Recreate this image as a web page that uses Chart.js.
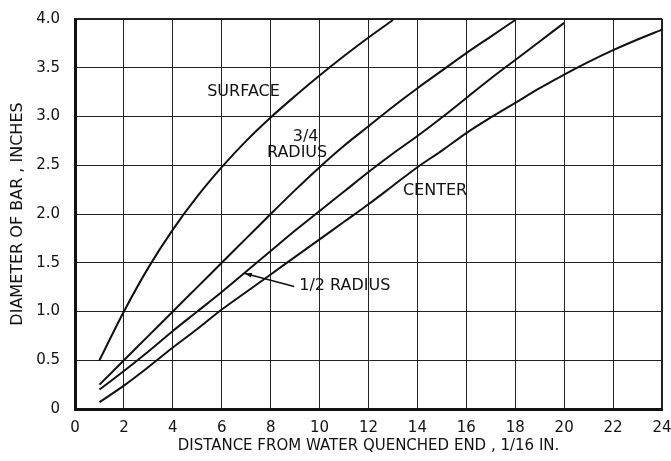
<!DOCTYPE html>
<html>
<head>
<meta charset="utf-8">
<script src="https://cdn.jsdelivr.net/npm/chart.js@4.4.1/dist/chart.umd.min.js"></script>
<style>
  html,body{margin:0;padding:0;background:#fff;}
  #wrap{width:671px;height:461px;position:relative;}
</style>
</head>
<body>
<div id="wrap"><canvas id="jominyChart"></canvas></div>
<script>
// distance from the quenched end, in 1/16 in.
const distance=[1,2,3,4,5,6,7,8,9,10,11,12,13,14,15,16,17,18,19,20,21,22,23,24];

// bar diameter (inches) that gets the same cooling as each Jominy distance
const surface=[0.5,1.0,1.45,1.84,2.18,2.48,2.75,2.99,3.21,3.42,3.62,3.81,3.99];
const threeQuarter=[0.25,0.5,0.75,1.0,1.25,1.5,1.75,2.0,2.245,2.48,2.7,2.9,3.1,3.29,3.47,3.65,3.82,3.99];
const halfRadius=[0.2,0.39,0.59,0.8,1.0,1.2,1.41,1.62,1.83,2.03,2.23,2.43,2.62,2.8,2.99,3.19,3.39,3.58,3.77,3.96];
const center=[0.07,0.24,0.43,0.63,0.82,1.02,1.2,1.38,1.56,1.74,1.92,2.1,2.29,2.48,2.65,2.83,2.99,3.14,3.29,3.43,3.56,3.68,3.79,3.89];

const xTicks=[0,2,4,6,8,10,12,14,16,18,20,22,24];
const yTicks=[0,0.5,1,1.5,2,2.5,3,3.5,4];

// curve labels, placed in data units
const curveNotes=[
  {text:'SURFACE',x:6.89,y:3.25},
  {text:'3/4',x:9.43,y:2.79},
  {text:'RADIUS',x:9.08,y:2.63},
  {text:'CENTER',x:14.72,y:2.24},
  {text:'1/2 RADIUS',x:9.17,y:1.26,align:'left'}
];
const halfArrow={fromX:8.96,fromY:1.256,toX:6.92,toY:1.393};

const FONT="'DejaVu Sans', sans-serif";

const toPoints=(vals)=>vals.map((v,i)=>({x:distance[i],y:v}));

const curve=(label,vals)=>({
  label:label,
  data:toPoints(vals),
  borderColor:'#111',
  borderWidth:2,
  pointRadius:0,
  tension:0.35,
  fill:false
});

const notesPlugin={
  id:'notes',
  afterDatasetsDraw(chart){
    const ctx=chart.ctx;
    const xs=chart.scales.x, ys=chart.scales.y;
    ctx.save();
    ctx.fillStyle='#111';
    ctx.font='16px '+FONT;
    ctx.textBaseline='middle';
    curveNotes.forEach(n=>{
      ctx.textAlign=n.align||'center';
      ctx.fillText(n.text,xs.getPixelForValue(n.x),ys.getPixelForValue(n.y));
    });
    // leader arrow to the 1/2 radius curve
    const x1=xs.getPixelForValue(halfArrow.fromX), y1=ys.getPixelForValue(halfArrow.fromY);
    const x2=xs.getPixelForValue(halfArrow.toX), y2=ys.getPixelForValue(halfArrow.toY);
    ctx.strokeStyle='#111';
    ctx.lineWidth=1.6;
    ctx.beginPath();
    ctx.moveTo(x1,y1);
    ctx.lineTo(x2,y2);
    ctx.stroke();
    const ang=Math.atan2(y2-y1,x2-x1);
    ctx.beginPath();
    ctx.moveTo(x2,y2);
    ctx.lineTo(x2-8*Math.cos(ang-0.3),y2-8*Math.sin(ang-0.3));
    ctx.lineTo(x2-8*Math.cos(ang+0.3),y2-8*Math.sin(ang+0.3));
    ctx.closePath();
    ctx.fill();
    ctx.restore();
  }
};

new Chart(document.getElementById('jominyChart'),{
  type:'line',
  data:{
    datasets:[
      curve('Surface',surface),
      curve('3/4 Radius',threeQuarter),
      curve('1/2 Radius',halfRadius),
      curve('Center',center)
    ]
  },
  options:{
    responsive:true,
    maintainAspectRatio:false,
    animation:false,
    devicePixelRatio:1,
    layout:{padding:{top:19,right:9,left:0,bottom:0}},
    plugins:{legend:{display:false},tooltip:{enabled:false}},
    scales:{
      x:{
        type:'linear',
        min:0,max:24,
        afterBuildTicks:(s)=>{s.ticks=xTicks.map(v=>({value:v}));},
        afterFit:(s)=>{s.height=52;s.paddingLeft=0;s.paddingRight=0;},
        grid:{
          color:'#222',
          lineWidth:(c)=>c.tick&&c.tick.value===24?2:1,
          drawTicks:false
        },
        border:{display:true,color:'#111',width:3},
        ticks:{
          color:'#111',
          padding:10,
          maxRotation:0,
          font:{family:FONT,size:15},
          callback:(v)=>String(v)
        },
        title:{
          display:true,
          text:'DISTANCE FROM WATER QUENCHED END , 1/16 IN.',
          color:'#111',
          font:{family:FONT,size:15},
          padding:{top:0,bottom:6}
        }
      },
      y:{
        min:0,max:4,
        afterBuildTicks:(s)=>{s.ticks=yTicks.map(v=>({value:v}));},
        afterFit:(s)=>{s.width=75;s.paddingTop=0;s.paddingBottom=0;},
        grid:{
          color:'#222',
          lineWidth:(c)=>c.tick&&c.tick.value===4?2:1,
          drawTicks:false
        },
        border:{display:true,color:'#111',width:3},
        ticks:{
          color:'#111',
          padding:15,
          font:{family:FONT,size:15},
          callback:(v)=>v===0?'0':v.toFixed(1)
        },
        title:{
          display:true,
          text:'DIAMETER OF BAR , INCHES',
          color:'#111',
          font:{family:FONT,size:16},
          padding:{top:8,bottom:0}
        }
      }
    }
  },
  plugins:[notesPlugin]
});
</script>
</body>
</html>
